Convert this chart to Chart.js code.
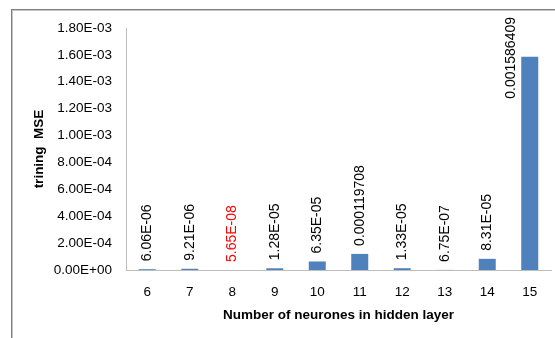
<!DOCTYPE html>
<html>
<head>
<meta charset="utf-8">
<script src="https://cdn.jsdelivr.net/npm/chart.js@4"></script>
<style>
  html, body { margin: 0; padding: 0; background: #fff; }
  canvas { display: block; }
</style>
</head>
<body>
<canvas id="chart" width="555" height="338"></canvas>
<script>
// Hidden-layer sizes tested and the resulting training MSE
const neurons = ['6', '7', '8', '9', '10', '11', '12', '13', '14', '15'];
const trainingMSE = [6.06e-6, 9.21e-6, 5.65e-8, 1.28e-5, 6.35e-5, 0.000119708, 1.33e-5, 6.75e-7, 8.31e-5, 0.001586409];
// The best (lowest) result is highlighted in red
const labelColors = ['#000000', '#000000', '#FF0000', '#000000', '#000000', '#000000', '#000000', '#000000', '#000000', '#000000'];

const FONT = '"Liberation Sans", Arial, sans-serif';

// Excel-style scientific notation: 1.80E-03
function sci(v) {
  const parts = Number(v).toExponential(2).split('e');
  const n = parseInt(parts[1], 10);
  return parts[0] + 'E' + (n < 0 ? '-' : '+') + String(Math.abs(n)).padStart(2, '0');
}
function valueText(v) {
  return v >= 1e-4 ? String(v) : sci(v);
}

// Grey frame around the chart area
const framePlugin = {
  id: 'frame',
  beforeDraw(chart) {
    const ctx = chart.ctx;
    ctx.save();
    ctx.fillStyle = '#ffffff';
    ctx.fillRect(0, 0, chart.width, chart.height);
    ctx.lineWidth = 1;
    ctx.strokeStyle = '#C4C4C4';
    ctx.strokeRect(12.5, 10.5, 1000, 1000);
    ctx.strokeStyle = '#808080';
    ctx.strokeRect(11.5, 9.5, 1000, 1000);
    ctx.restore();
  }
};

// Vertical value labels above each bar
const valueLabels = {
  id: 'valueLabels',
  afterDatasetsDraw(chart) {
    const ctx = chart.ctx;
    const meta = chart.getDatasetMeta(0);
    const top = chart.chartArea.top;
    meta.data.forEach((bar, i) => {
      const txt = valueText(trainingMSE[i]);
      ctx.save();
      ctx.font = '14px ' + FONT;
      ctx.fillStyle = labelColors[i];
      ctx.textBaseline = 'middle';
      const w = ctx.measureText(txt).width;
      const base = bar.y - 8;
      if (base - w < top - 14) {
        // not enough room above: put it beside the bar, hanging from the top
        ctx.translate(bar.x - 19, top - 11);
        ctx.rotate(-Math.PI / 2);
        ctx.textAlign = 'right';
      } else {
        ctx.translate(bar.x, base);
        ctx.rotate(-Math.PI / 2);
        ctx.textAlign = 'left';
      }
      ctx.fillText(txt, 0, 0);
      ctx.restore();
    });
  }
};

new Chart(document.getElementById('chart'), {
  type: 'bar',
  data: {
    labels: neurons,
    datasets: [{
      data: trainingMSE,
      backgroundColor: '#4F81BD',
      borderWidth: 0,
      categoryPercentage: 1,
      barPercentage: 0.4
    }]
  },
  options: {
    responsive: false,
    devicePixelRatio: 1,
    animation: false,
    layout: { padding: { top: 28, right: 4, left: 0, bottom: 0 } },
    plugins: {
      legend: { display: false },
      tooltip: { enabled: false }
    },
    scales: {
      x: {
        grid: { display: false, drawTicks: false },
        border: { display: true, color: '#BDBDBD' },
        ticks: { color: '#000', font: { family: FONT, size: 13.5 }, padding: 14, maxRotation: 0 },
        title: {
          display: true,
          text: 'Number of neurones in hidden layer',
          color: '#000',
          font: { family: FONT, size: 13.5, weight: 'bold' },
          padding: { top: 0, bottom: 15 }
        },
        afterFit(scale) { scale.height = 68; }
      },
      y: {
        min: 0,
        max: 0.0018,
        grid: { display: false, drawTicks: false },
        border: { display: true, color: '#BDBDBD' },
        ticks: {
          stepSize: 0.0002,
          color: '#000',
          font: { family: FONT, size: 13.5 },
          padding: 14,
          callback: (v) => sci(v)
        },
        title: {
          display: true,
          text: 'trining  MSE',
          color: '#000',
          font: { family: FONT, size: 13.5, weight: 'bold' },
          padding: { top: 31, bottom: 0 }
        },
        afterFit(scale) { scale.width = 126; }
      }
    }
  },
  plugins: [framePlugin, valueLabels]
});
</script>
</body>
</html>
